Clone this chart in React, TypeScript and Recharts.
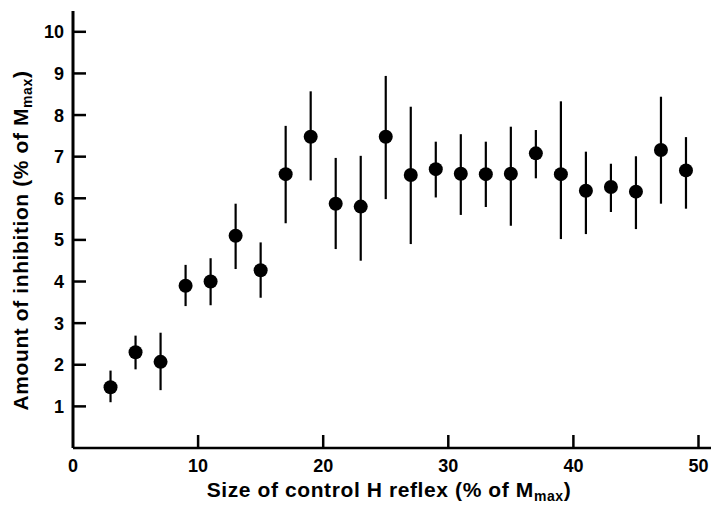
import React from "react";
import { ScatterChart, Scatter, XAxis, YAxis, ErrorBar } from "recharts";

const xValues = [3, 5, 7, 9, 11, 13, 15, 17, 19, 21, 23, 25, 27, 29, 31, 33, 35, 37, 39, 41, 43, 45, 47, 49];
const means = [1.46, 2.3, 2.07, 3.9, 4.0, 5.1, 4.27, 6.58, 7.48, 5.87, 5.8, 7.48, 6.56, 6.7, 6.59, 6.58, 6.59, 7.08, 6.58, 6.18, 6.27, 6.16, 7.16, 6.67];
const uppers = [1.86, 2.7, 2.77, 4.4, 4.56, 5.87, 4.94, 7.74, 8.57, 6.97, 7.02, 8.94, 8.2, 7.36, 7.54, 7.36, 7.72, 7.64, 8.33, 7.12, 6.83, 7.01, 8.44, 7.47];
const lowers = [1.1, 1.89, 1.39, 3.41, 3.43, 4.3, 3.61, 5.4, 6.43, 4.78, 4.5, 5.98, 4.9, 6.02, 5.6, 5.79, 5.34, 6.48, 5.02, 5.14, 5.67, 5.26, 5.87, 5.75];
const xTicks = [0, 10, 20, 30, 40, 50];
const yTicks = [1, 2, 3, 4, 5, 6, 7, 8, 9, 10];

const data = xValues.map((x, i) => ({
  x,
  y: means[i],
  err: [means[i] - lowers[i], uppers[i] - means[i]],
}));

const FONT = "'Liberation Sans', Arial, Helvetica, sans-serif";

const XTick = (props: any) => {
  const { x, y, payload } = props;
  return (
    <g>
      {payload.value !== 0 && (
        <line x1={x} x2={x} y1={y} y2={y - 13} stroke="#000" strokeWidth={2.5} />
      )}
      <text x={x} y={y + 24} textAnchor="middle" fontFamily={FONT} fontWeight="bold" fontSize={18} fill="#000">
        {payload.value}
      </text>
    </g>
  );
};

const YTick = (props: any) => {
  const { x, y, payload } = props;
  return (
    <g>
      <line x1={x} x2={x + 13} y1={y} y2={y} stroke="#000" strokeWidth={2.5} />
      <text x={x - 9} y={y + 6.5} textAnchor="end" fontFamily={FONT} fontWeight="bold" fontSize={18} fill="#000">
        {payload.value}
      </text>
    </g>
  );
};

const XTitle = (props: any) => {
  const vb = props.viewBox || {};
  const cx = vb.x + vb.width / 2 - 3;
  return (
    <text x={cx} y={497} textAnchor="middle" fontFamily={FONT} fontWeight="bold" fontSize={21} letterSpacing={0.6} fill="#000">
      Size of control H reflex (% of M
      <tspan fontSize={14} dy={3.5}>max</tspan>
      <tspan dy={-3.5}>)</tspan>
    </text>
  );
};

const YTitle = (props: any) => {
  const vb = props.viewBox || {};
  const cy = vb.y + vb.height / 2 + 11;
  return (
    <text
      x={28}
      y={cy}
      transform={`rotate(-90, 28, ${cy})`}
      textAnchor="middle"
      fontFamily={FONT}
      fontWeight="bold"
      fontSize={21}
      letterSpacing={0.6}
      fill="#000"
    >
      Amount of inhibition (% of M
      <tspan fontSize={14} dy={3.5}>max</tspan>
      <tspan dy={-3.5}>)</tspan>
    </text>
  );
};

const Dot = (props: any) => <circle cx={props.cx} cy={props.cy} r={7} fill="#000" />;

export default function App() {
  return (
    <div style={{ position: "absolute", left: 0, top: 0, background: "#fff" }}>
      <ScatterChart width={715} height={506} margin={{ top: 11, right: 4, bottom: 0, left: 13 }}>
        <XAxis
          type="number"
          dataKey="x"
          domain={[0, 51]}
          ticks={xTicks}
          interval={0}
          tickSize={0}
          tickMargin={0}
          height={58}
          axisLine={{ stroke: "#000", strokeWidth: 2.5 }}
          tickLine={false}
          tick={<XTick />}
          label={{ content: <XTitle /> }}
        />
        <YAxis
          type="number"
          dataKey="y"
          domain={[0, 10.5]}
          ticks={yTicks}
          interval={0}
          tickSize={0}
          tickMargin={0}
          width={60}
          axisLine={{ stroke: "#000", strokeWidth: 3 }}
          tickLine={false}
          tick={<YTick />}
          label={{ content: <YTitle /> }}
        />
        <Scatter data={data} fill="#000" shape={<Dot />} isAnimationActive={false}>
          <ErrorBar dataKey="err" direction="y" width={0} stroke="#000" strokeWidth={2.2} />
        </Scatter>
      </ScatterChart>
    </div>
  );
}
